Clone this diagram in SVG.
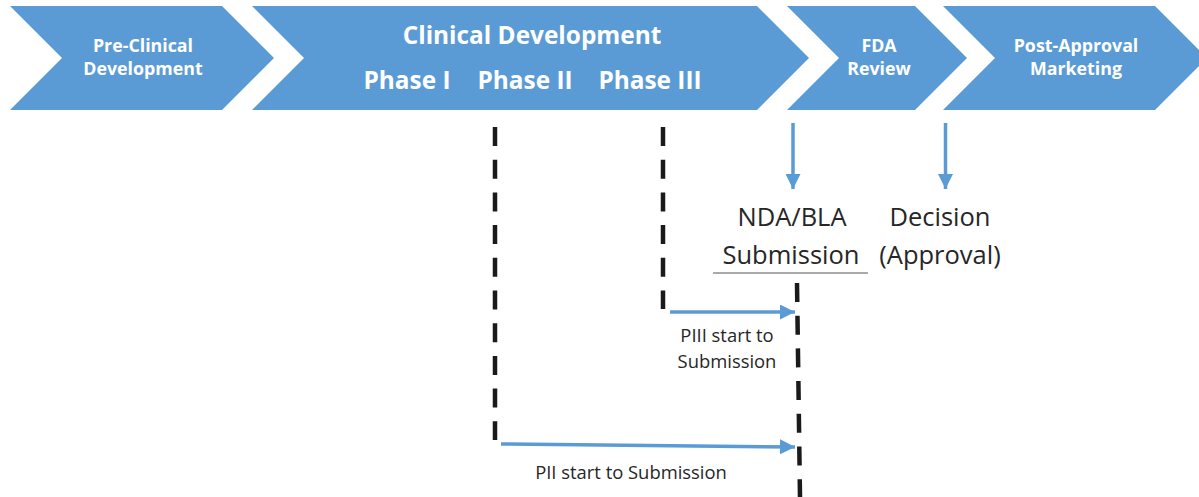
<svg xmlns="http://www.w3.org/2000/svg" width="1199" height="497" viewBox="0 0 1199 497">
<style>
.chev{fill:#5B9BD5}
.ht{font-family:"Open Sans","Liberation Sans",sans-serif;font-weight:bold;fill:#fff;text-anchor:middle}
.lt{font-family:"Open Sans","Liberation Sans",sans-serif;fill:#262626;text-anchor:middle}
.dash{stroke:#1a1a1a;stroke-width:4.5;stroke-dasharray:19 13.7;fill:none}
.blue{stroke:#5B9BD5;stroke-width:3.5;fill:none}
</style>
<defs>
<marker id="ah" viewBox="0 0 10 10" refX="10" refY="5" markerWidth="15" markerHeight="15" markerUnits="userSpaceOnUse" orient="auto">
<path d="M0,0 L10,5 L0,10 Z" fill="#5B9BD5"/>
</marker>
</defs>
<g id="preclinical">
<path class="chev" d="M10,6 L222,6 L274,58 L222,110 L10,110 L62,58 Z"/>
<text class="ht" x="143" y="52" font-size="17.8">Pre-Clinical</text>
<text class="ht" x="143" y="75" font-size="17.8">Development</text>
</g>
<g id="clinical">
<path class="chev" d="M252,6 L757,6 L809,58 L757,110 L252,110 L304,58 Z"/>
<text class="ht" x="532" y="44" font-size="24.4">Clinical Development</text>
<text class="ht" x="407" y="89" font-size="24.4">Phase I</text>
<text class="ht" x="525" y="89" font-size="24.4">Phase II</text>
<text class="ht" x="650" y="89" font-size="24.4">Phase III</text>
</g>
<g id="fda">
<path class="chev" d="M787,6 L915,6 L967,58 L915,110 L787,110 L839,58 Z"/>
<text class="ht" x="879" y="52" font-size="17.8">FDA</text>
<text class="ht" x="879" y="75" font-size="17.8">Review</text>
</g>
<g id="postapproval">
<path class="chev" d="M943,6 L1155,6 L1207,58 L1155,110 L943,110 L995,58 Z"/>
<text class="ht" x="1076" y="52" font-size="17.8">Post-Approval</text>
<text class="ht" x="1076" y="75" font-size="17.8">Marketing</text>
</g>
<g id="submission">
<text class="lt" x="792" y="226" font-size="25.5">NDA/BLA</text>
<text class="lt" x="791" y="264" font-size="25.5">Submission</text>
<line x1="713" y1="273" x2="868" y2="273" stroke="#555" stroke-width="1"/>
</g>
<g id="decision">
<text class="lt" x="940" y="226" font-size="25.5">Decision</text>
<text class="lt" x="940" y="264" font-size="25.5">(Approval)</text>
</g>
<g id="labels">
<text class="lt" x="727" y="342" font-size="18.4">PIII start to</text>
<text class="lt" x="727" y="368" font-size="18.4">Submission</text>
<text class="lt" x="631" y="479" font-size="18.4">PII start to Submission</text>
</g>
<g id="connectors">
<line class="dash" x1="495" y1="127" x2="495" y2="440"/>
<line class="dash" x1="663" y1="127" x2="663" y2="309"/>
<line class="dash" x1="797" y1="283" x2="800" y2="497"/>
<line class="blue" x1="793" y1="123" x2="793" y2="189" marker-end="url(#ah)"/>
<line class="blue" x1="945.5" y1="123" x2="945.5" y2="189" marker-end="url(#ah)"/>
<line class="blue" x1="670" y1="312" x2="795" y2="312" marker-end="url(#ah)"/>
<line class="blue" x1="501" y1="444" x2="795" y2="447" marker-end="url(#ah)"/>
</g>
</svg>
